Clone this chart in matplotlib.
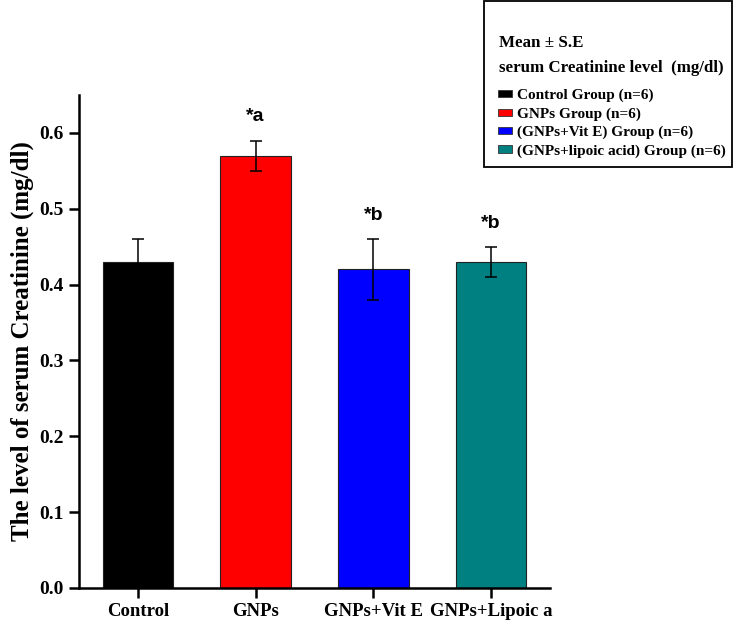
import matplotlib
matplotlib.use("Agg")
import matplotlib.pyplot as plt
from matplotlib.patches import Rectangle

categories = ["Control", "GNPs", "GNPs+Vit E", "GNPs+Lipoic a"]
means = [0.43, 0.57, 0.42, 0.43]
errors = [0.03, 0.02, 0.04, 0.02]
colors = ["#000000", "#ff0000", "#0000ff", "#008080"]
legend_labels = ["Control Group (n=6)", "GNPs Group (n=6)",
                 "(GNPs+Vit E) Group (n=6)", "(GNPs+lipoic acid) Group (n=6)"]
legend_title = ["Mean ± S.E", "serum Creatinine level  (mg/dl)"]
annotations = ["", "*a", "*b", "*b"]
yticks = [0.0, 0.1, 0.2, 0.3, 0.4, 0.5, 0.6]

serif = ["Liberation Serif", "DejaVu Serif"]
W, H = 735, 627

fig = plt.figure(figsize=(7.35, 6.27), dpi=100)
ax = fig.add_axes([79/W, 39/H, (550-79)/W, (588-95)/H])

x = list(range(len(categories)))
ax.bar(x, means, width=0.6, color=colors, edgecolor="#222222", linewidth=0.8,
       yerr=errors, capsize=4, error_kw=dict(ecolor="black", elinewidth=1.1, capthick=1.1))

for xi, m, e, a in zip(x, means, errors, annotations):
    if a:
        ax.text(xi, m + e + 0.02, a, ha="center", va="bottom", fontsize=14,
                fontweight="bold", family=["Liberation Sans", "DejaVu Sans"])

ax.set_xlim(-0.5, 3.5)
ax.set_ylim(0, 0.65)
ax.set_yticks(yticks)
ax.set_yticklabels([f"{t:.1f}" for t in yticks], fontsize=14, fontweight="bold", family=serif)
ax.set_xticks(x)
ax.set_xticklabels(categories, fontsize=13.5, fontweight="bold", family=serif)
ax.set_ylabel("The level of serum Creatinine (mg/dl)", fontsize=18, fontweight="bold",
              family=serif, labelpad=4)
for s in ["top", "right"]:
    ax.spines[s].set_visible(False)
for s in ["left", "bottom"]:
    ax.spines[s].set_linewidth(1.8)
ax.tick_params(axis="both", width=1.8, length=7, direction="out", pad=4)

# legend box
fig.patches.append(Rectangle((484/W, 1 - 167/H), (732-484)/W, 166/H, transform=fig.transFigure,
                             facecolor="white", edgecolor="black", linewidth=1.3, zorder=1))
fig.text(499/W, 1 - 43/H, legend_title[0], ha="left", va="center", fontsize=12.2,
         fontweight="bold", family=serif)
fig.text(499/W, 1 - 68/H, legend_title[1], ha="left", va="center", fontsize=12.2,
         fontweight="bold", family=serif)

handles = [Rectangle((0, 0), 1, 1, facecolor=c, edgecolor="#333333", linewidth=0.6) for c in colors]
leg = fig.legend(handles, legend_labels,
                 loc="upper left", bbox_to_anchor=(498/W, 1 - 89/H), borderaxespad=0,
                 prop=dict(family=serif, weight="bold", size=11),
                 handlelength=0.9, handleheight=0.35, handletextpad=0.35,
                 labelspacing=0.32, borderpad=0.0, frameon=False)

fig.savefig("out.png", dpi=100)
